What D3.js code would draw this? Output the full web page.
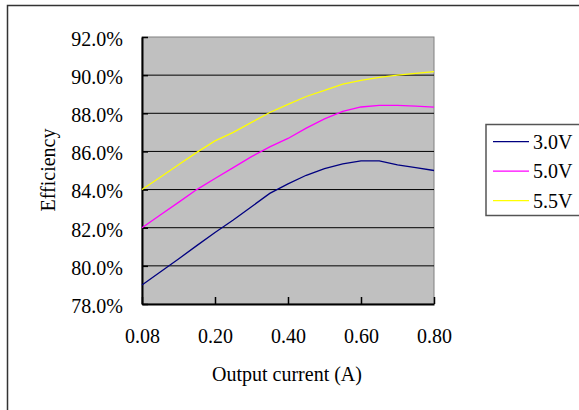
<!DOCTYPE html>
<html>
<head>
<meta charset="utf-8">
<script src="https://cdn.jsdelivr.net/npm/d3@7"></script>
<style>
  body { margin: 0; background: #fff; }
  text { font-family: "Liberation Serif", "Times New Roman", serif; font-size: 20px; fill: #000; }
</style>
</head>
<body>
<svg id="chart" width="579" height="410"></svg>
<script>
// output current categories (A), only every 4th one is labelled
var currents = ['0.08', '0.10', '0.12', '0.15', '0.20', '0.25', '0.30', '0.35', '0.40',
                '0.45', '0.50', '0.55', '0.60', '0.65', '0.70', '0.75', '0.80'];
var tickLabels = ['0.08', '0.20', '0.40', '0.60', '0.80'];
var yTicks = [78, 80, 82, 84, 86, 88, 90, 92];

var seriesNames = ['3.0V', '5.0V', '5.5V'];
var eff30 = [79.0, 79.68, 80.36, 81.06, 81.75, 82.4, 83.1, 83.8, 84.3,
             84.75, 85.1, 85.35, 85.5, 85.5, 85.3, 85.15, 85.0];
var eff50 = [82.0, 82.67, 83.33, 84.0, 84.58, 85.15, 85.73, 86.24, 86.68,
             87.22, 87.71, 88.1, 88.33, 88.42, 88.42, 88.38, 88.32];
var eff55 = [84.0, 84.65, 85.3, 85.95, 86.55, 87.0, 87.52, 88.04, 88.47,
             88.88, 89.2, 89.53, 89.73, 89.88, 90.0, 90.09, 90.18];
var colors = ['#000080', '#ff00ff', '#ffff00'];

var svg = d3.select('#chart');
var plot = { left: 142, top: 37, right: 434, bottom: 304 };

// outer chart frame (runs off the right and bottom of the picture)
svg.append('rect')
    .attr('x', 7.5).attr('y', 5.5)
    .attr('width', 620).attr('height', 430)
    .attr('fill', '#fff').attr('stroke', '#333').attr('stroke-width', 1.5);

var x = d3.scalePoint().domain(currents).range([plot.left, plot.right]);
var y = d3.scaleLinear().domain([78, 92]).range([plot.bottom, plot.top]);

svg.append('rect')
    .attr('x', plot.left).attr('y', plot.top)
    .attr('width', plot.right - plot.left).attr('height', plot.bottom - plot.top)
    .attr('fill', '#c0c0c0').attr('stroke', '#808080').attr('stroke-width', 1);

// gridlines
svg.append('g').selectAll('line')
    .data(yTicks.slice(1, -1))
    .join('line')
    .attr('x1', plot.left).attr('x2', plot.right)
    .attr('y1', function (d) { return y(d); })
    .attr('y2', function (d) { return y(d); })
    .attr('stroke', '#000').attr('stroke-width', 1);

// y axis
var yAxis = d3.axisLeft(y).tickValues(yTicks).tickSizeInner(-6).tickSizeOuter(0)
    .tickPadding(19)
    .tickFormat(function (d) { return d.toFixed(1) + '%'; });
var gy = svg.append('g').attr('transform', 'translate(' + plot.left + ',0)').call(yAxis);
gy.select('.domain').attr('stroke', '#000').attr('stroke-width', 2);
gy.selectAll('.tick line').attr('stroke', '#000').attr('stroke-width', 1.5);
gy.selectAll('.tick text').attr('font-size', 20).attr('font-family', null).attr('dy', '0.42em');

// x axis
var xAxis = d3.axisBottom(x).tickValues(tickLabels).tickSizeInner(-7).tickSizeOuter(0)
    .tickPadding(25);
var gx = svg.append('g').attr('transform', 'translate(0,' + plot.bottom + ')').call(xAxis);
gx.select('.domain').attr('stroke', '#000').attr('stroke-width', 2);
gx.selectAll('.tick line').attr('stroke', '#000').attr('stroke-width', 1.5);
gx.selectAll('.tick text').attr('font-size', 20).attr('font-family', null);

// series
var line = d3.line()
    .x(function (d, i) { return x(currents[i]); })
    .y(function (d) { return y(d); });

[eff30, eff50, eff55].forEach(function (vals, k) {
  svg.append('path')
      .datum(vals)
      .attr('d', line)
      .attr('fill', 'none')
      .attr('stroke', colors[k])
      .attr('stroke-width', 1.3);
});

// axis titles
svg.append('text')
    .attr('x', 287).attr('y', 381)
    .attr('text-anchor', 'middle')
    .text('Output current (A)');

svg.append('text')
    .attr('transform', 'translate(55,170) rotate(-90)')
    .attr('text-anchor', 'middle')
    .text('Efficiency');

// legend
var legend = svg.append('g');
legend.append('rect')
    .attr('x', 486).attr('y', 124.5)
    .attr('width', 100).attr('height', 91)
    .attr('fill', '#fff').attr('stroke', '#555').attr('stroke-width', 1.5);

seriesNames.forEach(function (name, k) {
  var ry = 141.7 + k * 29.5;
  legend.append('line')
      .attr('x1', 493).attr('x2', 529)
      .attr('y1', ry).attr('y2', ry)
      .attr('stroke', colors[k]).attr('stroke-width', 1.3);
  legend.append('text')
      .attr('x', 533).attr('y', ry)
      .attr('dy', '0.35em')
      .text(name);
});
</script>
</body>
</html>
